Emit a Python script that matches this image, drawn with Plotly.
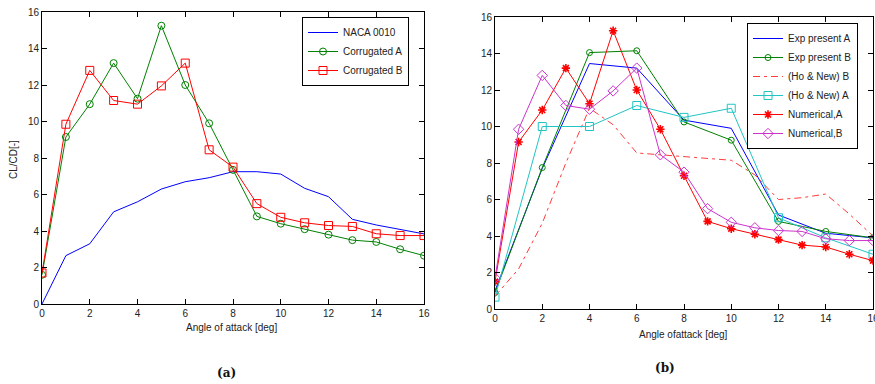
import plotly.graph_objects as go

# ---------------- data ----------------
aoa = list(range(0, 17))
aoa_even = list(range(0, 17, 2))

naca_0010 = [0.0, 2.65, 3.3, 5.05, 5.6, 6.3, 6.7, 6.92, 7.25, 7.25, 7.12, 6.34, 5.88, 4.64, 4.33, 4.1, 3.84]
corr_a = [1.6, 9.15, 10.95, 13.2, 11.25, 15.25, 12.0, 9.9, 7.35, 4.8, 4.4, 4.1, 3.8, 3.5, 3.4, 3.0, 2.65]
corr_b = [1.7, 9.85, 12.8, 11.15, 10.95, 11.95, 13.2, 8.45, 7.5, 5.5, 4.75, 4.45, 4.3, 4.25, 3.85, 3.75, 3.75]

exp_a = [1.0, 7.7, 13.45, 13.2, 10.35, 9.9, 5.15, 4.15, 3.9]
exp_b = [0.9, 7.75, 14.05, 14.15, 10.25, 9.25, 4.8, 4.25, 3.9]
ho_new_a = [0.65, 10.0, 10.0, 11.15, 10.5, 11.0, 5.0, 3.9, 3.0]
ho_new_b = [0.7, 2.2, 4.7, 8.0, 11.0, 10.1, 8.55, 8.45, 8.35, 8.25, 8.15, 7.35, 6.0, 6.1, 6.3, 5.2, 4.0]
num_a = [1.5, 9.15, 10.9, 13.2, 11.25, 15.25, 12.0, 9.85, 7.3, 4.8, 4.4, 4.1, 3.8, 3.5, 3.4, 3.0, 2.65]
num_b = [1.7, 9.85, 12.8, 11.15, 10.95, 11.95, 13.2, 8.45, 7.5, 5.5, 4.75, 4.45, 4.3, 4.25, 3.85, 3.75, 3.75]

tick_vals = list(range(0, 17, 2))

W, H = 875, 384
FONT = "Arial, Liberation Sans, sans-serif"

def px_x(p):
    return p / W

def px_y(p):
    return 1 - p / H

fig = go.Figure()

# ---- panel (a) ----
fig.add_trace(go.Scatter(x=aoa, y=naca_0010, name="NACA 0010", mode="lines",
                         line=dict(color="#0000ff", width=1), xaxis="x", yaxis="y", legend="legend"))
fig.add_trace(go.Scatter(x=aoa, y=corr_a, name="Corrugated A", mode="lines+markers",
                         line=dict(color="#008000", width=1),
                         marker=dict(symbol="circle-open", size=7, color="#008000", line=dict(width=1)),
                         xaxis="x", yaxis="y", legend="legend"))
fig.add_trace(go.Scatter(x=aoa, y=corr_b, name="Corrugated B", mode="lines+markers",
                         line=dict(color="#ff0000", width=1),
                         marker=dict(symbol="square-open", size=8, color="#ff0000", line=dict(width=1)),
                         xaxis="x", yaxis="y", legend="legend"))

# ---- panel (b) ----
fig.add_trace(go.Scatter(x=aoa_even, y=exp_a, name="Exp present A", mode="lines",
                         line=dict(color="#0000ff", width=1), xaxis="x2", yaxis="y2", legend="legend2"))
fig.add_trace(go.Scatter(x=aoa_even, y=exp_b, name="Exp present B", mode="lines+markers",
                         line=dict(color="#008000", width=1),
                         marker=dict(symbol="circle-open", size=6, color="#008000", line=dict(width=1)),
                         xaxis="x2", yaxis="y2", legend="legend2"))
fig.add_trace(go.Scatter(x=aoa, y=ho_new_b, name="(Ho &amp; New) B", mode="lines",
                         line=dict(color="#ff3b3b", width=1, dash="7px,4px,3px,4px"),
                         xaxis="x2", yaxis="y2", legend="legend2"))
fig.add_trace(go.Scatter(x=aoa_even, y=ho_new_a, name="(Ho &amp; New) A", mode="lines+markers",
                         line=dict(color="#22c4c4", width=1),
                         marker=dict(symbol="square-open", size=8, color="#22c4c4", line=dict(width=1)),
                         xaxis="x2", yaxis="y2", legend="legend2"))
fig.add_trace(go.Scatter(x=aoa, y=num_a, name="Numerical,A", mode="lines+markers",
                         line=dict(color="#ff0000", width=1),
                         marker=dict(symbol="asterisk-open", size=7, color="#ff0000", line=dict(width=1.6, color="#ff0000")),
                         xaxis="x2", yaxis="y2", legend="legend2"))
fig.add_trace(go.Scatter(x=aoa, y=num_b, name="Numerical,B", mode="lines+markers",
                         line=dict(color="#cc33cc", width=1),
                         marker=dict(symbol="diamond-open", size=8, color="#cc33cc", line=dict(width=1)),
                         xaxis="x2", yaxis="y2", legend="legend2"))

axis_common = dict(range=[0, 16], tickmode="array", tickvals=tick_vals,
                   showline=True, linecolor="black", linewidth=1, mirror="ticks",
                   ticks="inside", ticklen=5, tickcolor="black",
                   showgrid=False, zeroline=False, automargin=False,
                   tickfont=dict(family=FONT, size=10, color="#222"))

fig.update_layout(
    width=W, height=H,
    margin=dict(l=0, r=0, t=0, b=0),
    paper_bgcolor="white", plot_bgcolor="white",
    font=dict(family=FONT, size=10, color="#222"),
    xaxis=dict(domain=[px_x(42), px_x(424)], anchor="y", **axis_common),
    yaxis=dict(domain=[px_y(304), px_y(12)], anchor="x", **axis_common),
    xaxis2=dict(domain=[px_x(495), px_x(873)], anchor="y2", ticklabeloverflow="allow", **axis_common),
    yaxis2=dict(domain=[px_y(309), px_y(17)], anchor="x2", **axis_common),
    legend=dict(x=px_x(302), y=px_y(17), xanchor="left", yanchor="top",
                bgcolor="white", bordercolor="black", borderwidth=1,
                font=dict(family=FONT, size=10, color="#222"),
                tracegroupgap=0, itemwidth=30),
    legend2=dict(x=px_x(747), y=px_y(23), xanchor="left", yanchor="top",
                 bgcolor="white", bordercolor="black", borderwidth=1,
                 font=dict(family=FONT, size=10, color="#222"),
                 tracegroupgap=0, itemwidth=30),
    showlegend=True,
)

annos = [
    dict(text="Angle of attack [deg]", x=px_x(232), y=px_y(327), font=dict(family=FONT, size=10, color="#222")),
    dict(text="Angle ofattack [deg]", x=px_x(683), y=px_y(334), font=dict(family=FONT, size=10, color="#222")),
    dict(text="CL/CD[-]", x=px_x(13), y=px_y(160), textangle=-90, font=dict(family=FONT, size=10, color="#222")),
    dict(text="<b>(a)</b>", x=px_x(226), y=px_y(373), font=dict(family="DejaVu Serif, Liberation Serif, serif", size=12, color="#111")),
    dict(text="<b>(b)</b>", x=px_x(665), y=px_y(368), font=dict(family="DejaVu Serif, Liberation Serif, serif", size=12, color="#111")),
]
for a in annos:
    fig.add_annotation(xref="paper", yref="paper", showarrow=False, xanchor="center", yanchor="middle", **a)

fig.write_html("out.html",
               config={"displayModeBar": False},
               post_script="document.body.style.margin='0';document.body.style.overflow='hidden';")
